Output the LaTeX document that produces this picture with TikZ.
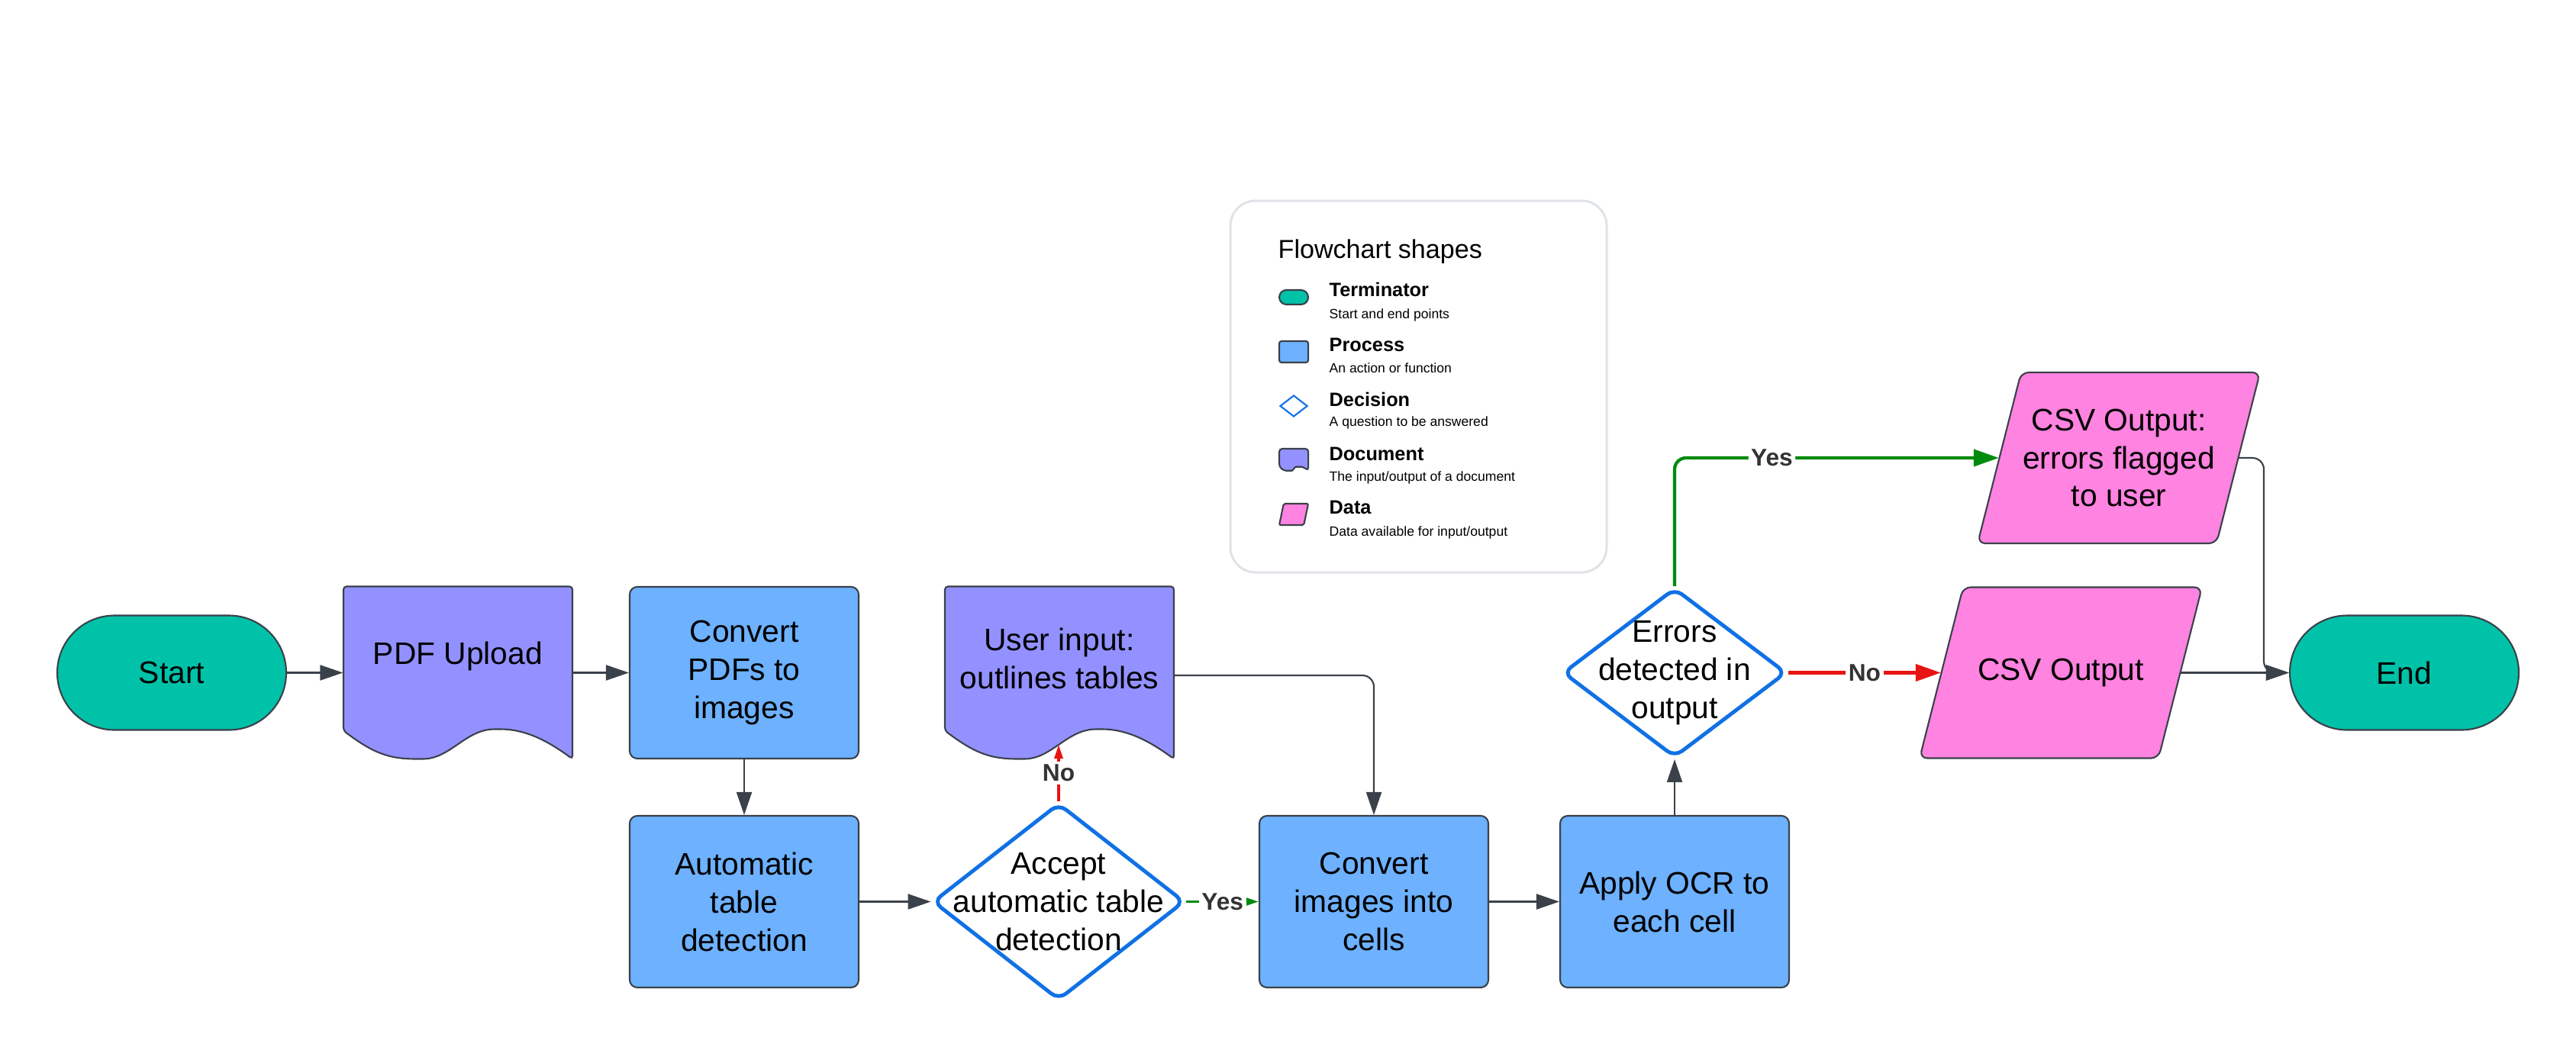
\documentclass[tikz,border=0pt]{standalone}
\usepackage{fontspec}
\setmainfont{Liberation Sans}
\usepackage{tikz}
\usetikzlibrary{arrows.meta}
\usetikzlibrary{shapes.geometric}
\usetikzlibrary{calc}

\definecolor{termteal}{HTML}{00C2A8}
\definecolor{docviolet}{HTML}{9391FF}
\definecolor{procblue}{HTML}{6DB1FF}
\definecolor{datapink}{HTML}{FF83E0}
\definecolor{edgegray}{HTML}{3A414A}
\definecolor{decblue}{HTML}{1071E5}
\definecolor{yesgreen}{HTML}{008A0E}
\definecolor{nored}{HTML}{E81313}
\definecolor{legendgray}{HTML}{DFE3E8}
\definecolor{labgray}{HTML}{333333}

\newcommand{\docpath}[2]{%
	\filldraw[docline, shift={#1}, scale=#2] (0,0) -- (0,-1.89) .. controls (0.4,-2.19) and (0.6,-2.26) .. (1,-2.26) .. controls (1.4,-2.26) and (1.6,-1.87) .. (2.02,-1.87) .. controls (2.4,-1.87) and (2.7,-2.04) .. (3,-2.26) -- (3,0) -- cycle;}
\newcommand{\datapath}[2][]{%
	\filldraw[dataline, shift={#2}, #1] (-1.85,-1.12) -- (-1.28,1.12) -- (1.85,1.12) -- (1.28,-1.12) -- cycle;}

\begin{document}
\begin{tikzpicture}[
		bigtext/.style={font=\fontsize{11.6}{14.2}\selectfont, align=center},
		terminator/.style={rectangle, rounded corners=0.75cm, draw=edgegray, fill=termteal, line width=0.6pt, minimum width=3cm, minimum height=1.5cm, bigtext},
		process/.style={rectangle, rounded corners=0.1cm, draw=edgegray, fill=procblue, line width=0.6pt, minimum width=3cm, minimum height=2.25cm, bigtext},
		decision/.style={diamond, rounded corners=0.12cm, draw=decblue, fill=white, line width=1.4pt, inner sep=0pt},
		doctext/.style={minimum width=3cm, minimum height=1.89cm, bigtext},
		docline/.style={draw=edgegray, fill=docviolet, line width=0.6pt, rounded corners=0.4mm},
		datatext/.style={minimum width=3.13cm, minimum height=2.24cm, inner sep=0pt, bigtext},
		dataline/.style={draw=edgegray, fill=datapink, line width=0.6pt, rounded corners=0.1cm},
		flow/.style={draw=edgegray, line width=0.6pt, rounded corners=0.15cm, -{Triangle[length=0.3cm, width=0.2cm]}},
		yesflow/.style={draw=yesgreen, line width=0.9pt, -{Triangle[length=0.18cm, width=0.11cm]}},
		noflow/.style={draw=nored, line width=0.9pt, -{Triangle[length=0.18cm, width=0.11cm]}},
		yesbig/.style={draw=yesgreen, line width=1.2pt, rounded corners=0.15cm, -{Triangle[length=0.33cm, width=0.22cm]}},
		nobig/.style={draw=nored, line width=1.2pt, -{Triangle[length=0.33cm, width=0.22cm]}},
		lab/.style={font=\fontsize{9}{11}\selectfont\bfseries, text=labgray, fill=white, inner sep=1pt},
		lhead/.style={anchor=base west, inner sep=0pt, font=\fontsize{7.2}{8}\selectfont\bfseries},
		lnote/.style={anchor=base west, inner sep=0pt, font=\fontsize{5}{6}\selectfont}
	]
	\path[use as bounding box, fill=white] (0,0) rectangle (33.75,-13.88);
	
	% legend
	\node (legend) [rectangle, rounded corners=0.33cm, draw=legendgray, line width=0.85pt, fill=white, minimum width=4.93cm, minimum height=4.87cm] at (18.585,-5.065) {};
	\node (ltitle) [anchor=base west, inner sep=0pt, font=\fontsize{9.7}{11}\selectfont] at (16.74,-3.38) {Flowchart shapes};
	
	\node (iterm) [rectangle, rounded corners=0.095cm, draw=edgegray, fill=termteal, line width=0.6pt, minimum width=0.38cm, minimum height=0.19cm, inner sep=0pt] at (16.95,-3.895) {};
	\node (iproc) [rectangle, rounded corners=0.03cm, draw=edgegray, fill=procblue, line width=0.6pt, minimum width=0.38cm, minimum height=0.28cm, inner sep=0pt] at (16.95,-4.61) {};
	\node (idec) [diamond, draw=decblue, line width=0.6pt, minimum width=0.36cm, minimum height=0.28cm, inner sep=0pt] at (16.95,-5.32) {};
	\docpath{(16.76,-5.88)}{0.127}
	\datapath[xscale=0.103, yscale=0.125, rounded corners=0.2mm]{(16.95,-6.74)}
	
	\node (lterm) [lhead] at (17.41,-3.88) {Terminator};
	\node (lterm2) [lnote] at (17.41,-4.17) {Start and end points};
	\node (lproc) [lhead] at (17.41,-4.60) {Process};
	\node (lproc2) [lnote] at (17.41,-4.88) {An action or function};
	\node (ldec) [lhead] at (17.41,-5.32) {Decision};
	\node (ldec2) [lnote] at (17.41,-5.58) {A question to be answered};
	\node (ldoc) [lhead] at (17.41,-6.03) {Document};
	\node (ldoc2) [lnote] at (17.41,-6.30) {The input/output of a document};
	\node (ldata) [lhead] at (17.41,-6.73) {Data};
	\node (ldata2) [lnote] at (17.41,-7.02) {Data available for input/output};
	
	% flowchart
	\node (start) [terminator] at (2.25,-8.815) {Start};
	\docpath{(4.5,-7.685)}{1}
	\node (pdf) [doctext] at (6,-8.6) {PDF Upload};
	\node (cpdf) [process] at (9.75,-8.815) {Convert\\PDFs to\\images};
	\node (auto) [process] at (9.75,-11.815) {Automatic\\table\\detection};
	\node (accept) [decision, minimum width=3.3cm, minimum height=2.58cm, label={[bigtext]center:Accept\\automatic table\\detection}] at (13.87,-11.815) {};
	\docpath{(12.38,-7.685)}{1}
	\node (user) [doctext] at (13.88,-8.63) {User input:\\outlines tables};
	\node (cimg) [process] at (18,-11.815) {Convert\\images into\\cells};
	\node (ocr) [process] at (21.94,-11.815) {Apply OCR to\\each cell};
	\node (err) [decision, minimum width=2.93cm, minimum height=2.22cm, label={[bigtext]center:Errors\\detected in\\output}] at (21.94,-8.815) {};
	\datapath{(27.76,-6.0)}
	\node (csvf) [datatext] at (27.76,-6.0) {CSV Output:\\errors flagged\\to user};
	\datapath{(27,-8.815)}
	\node (csv) [datatext] at (27,-8.815) {CSV Output};
	\node (end) [terminator] at (31.5,-8.815) {End};
	
	\coordinate (wave) at (13.87,-9.76);
	\coordinate (merge) at (29.66,-8.815);
	
	\draw [flow] (start) -- (start -| pdf.west);
	\draw [flow] (pdf.east |- cpdf) -- (cpdf);
	\draw [flow] (cpdf) -- (auto);
	\draw [flow] (auto) -- (accept);
	\draw [noflow] (accept) -- node[lab]{No} (wave);
	\draw [yesflow] (accept) -- node[lab]{Yes} (cimg);
	\draw [flow] ([yshift=-0.22cm]user.east) -| (cimg);
	\draw [flow] (cimg) -- (ocr);
	\draw [flow] (ocr) -- (err);
	\draw [yesbig] (err) |- node[lab, pos=0.65]{Yes} (csvf);
	\draw [nobig] (err) -- node[lab]{No} (csv);
	\draw [flow] (csvf) -| (merge) [sharp corners] -- (end);
	\draw [flow] (csv) -- (end);
\end{tikzpicture}
\end{document}
